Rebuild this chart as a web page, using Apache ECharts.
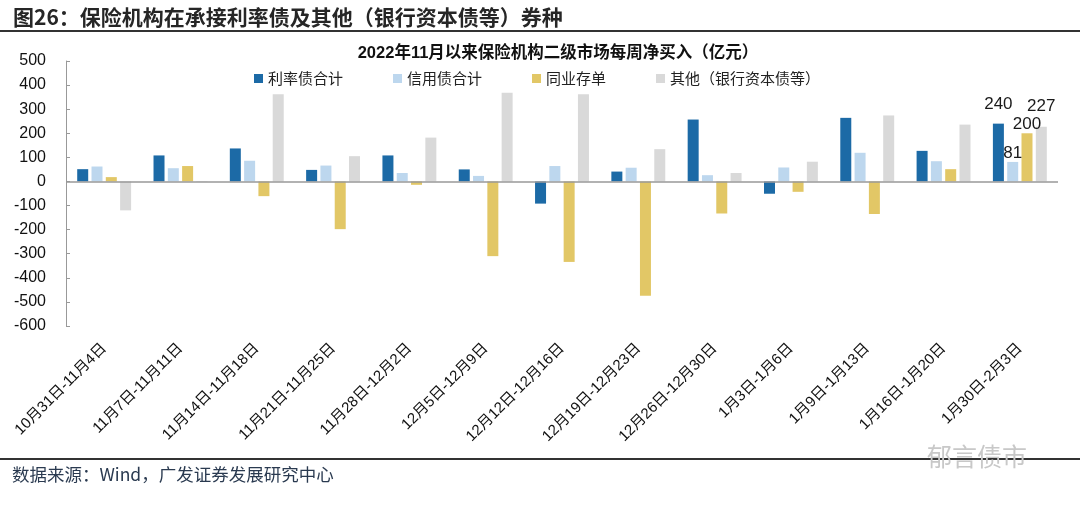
<!DOCTYPE html>
<html><head><meta charset="utf-8">
<script src="https://cdn.jsdelivr.net/npm/echarts@6/dist/echarts.min.js"></script>
<style>html,body{margin:0;padding:0;background:#fff}#c{width:1080px;height:508px}</style>
</head><body><div id="c"></div>
<script>
const categories = ['10月31日-11月4日','11月7日-11月11日','11月14日-11月18日','11月21日-11月25日','11月28日-12月2日','12月5日-12月9日','12月12日-12月16日','12月19日-12月23日','12月26日-12月30日','1月3日-1月6日','1月9日-1月13日','1月16日-1月20日','1月30日-2月3日'];
const rateBonds  = [51, 108, 137, 48, 108, 50, -92, 41, 257, -51, 264, 127, 240];
const creditBonds = [62, 55, 86, 66, 35, 23, 64, 57, 26, 58, 119, 84, 81];
const ncd = [18, 64, -61, -198, -14, -310, -334, -474, -133, -43, -135, 51, 200];
const others = [-120, -2, 362, 105, 182, 368, 362, 134, 35, 82, 274, 236, 227];
const seriesNames = ['利率债合计','信用债合计','同业存单','其他（银行资本债等）'];
const yTicks = {min: -600, max: 500, interval: 100};

const FONT = '"Liberation Sans", Arial, "Noto Sans CJK SC", sans-serif';
const CJK = '"Noto Sans CJK SC", sans-serif';
const colors = ['#1c6aa6', '#bdd7ee', '#e2c766', '#d9d9d9'];

function withLastLabel(arr, offsetY) {
  return arr.map((v, i) => i === arr.length - 1
    ? {value: v, label: {show: true, position: 'top', distance: offsetY, fontSize: 17, fontFamily: FONT, color: '#1a1a1a'}}
    : v);
}

const chart = echarts.init(document.getElementById('c'));
chart.setOption({
  animation: false,
  backgroundColor: '#fff',
  color: colors,
  title: [{
    text: '图26：保险机构在承接利率债及其他（银行资本债等）券种',
    left: 8, top: 2,
    textStyle: {fontSize: 21, fontWeight: 'bold', color: '#262626', fontFamily: CJK}
  }, {
    text: '2022年11月以来保险机构二级市场每周净买入（亿元）',
    left: 553, top: 40, textAlign: 'center',
    textStyle: {fontSize: 16.5, fontWeight: 'bold', color: '#111', fontFamily: FONT}
  }],
  graphic: [
    {type: 'line', shape: {x1: 0, y1: 31, x2: 1080, y2: 31}, style: {stroke: '#333', lineWidth: 2}},
    {type: 'line', shape: {x1: 0, y1: 459, x2: 1080, y2: 459}, style: {stroke: '#333', lineWidth: 2}},
    {type: 'text', left: 12, top: 466, style: {text: '数据来源：Wind，广发证券发展研究中心', fontSize: 17.5, fill: '#2a3a50', fontFamily: CJK}},
    {type: 'text', left: 927, top: 444, style: {text: '郁言债市', fontSize: 25, fill: '#c8c8c8', fontFamily: CJK}}
  ],
  legend: {
    data: seriesNames,
    left: 249, top: 66,
    itemWidth: 9, itemHeight: 9, itemGap: 50,
    icon: 'rect',
    textStyle: {fontSize: 15, color: '#222', fontFamily: CJK}
  },
  grid: {left: 66, right: 22, top: 61, bottom: 182},
  xAxis: {
    type: 'category',
    data: categories,
    axisLine: {show: false, onZero: false},
    axisTick: {show: false},
    axisLabel: {rotate: 45, fontSize: 15, color: '#111', fontFamily: FONT, margin: 20, interval: 0}
  },
  yAxis: {
    type: 'value',
    min: yTicks.min, max: yTicks.max, interval: yTicks.interval,
    axisLine: {show: true, lineStyle: {color: '#999'}},
    axisTick: {show: true, inside: true, length: 4, lineStyle: {color: '#999'}},
    splitLine: {show: false},
    axisLabel: {fontSize: 16, color: '#111', fontFamily: FONT, margin: 20}
  },
  series: [
    {name: seriesNames[0], type: 'bar', barWidth: 11, barGap: '30%', data: withLastLabel(rateBonds, 11),
      markLine: {silent: true, symbol: 'none', label: {show: false}, lineStyle: {color: '#999', type: 'solid', width: 1.5}, data: [{yAxis: 0}]}},
    {name: seriesNames[1], type: 'bar', barWidth: 11, barGap: '30%', data: withLastLabel(creditBonds, 0)},
    {name: seriesNames[2], type: 'bar', barWidth: 11, barGap: '30%', data: withLastLabel(ncd, 0)},
    {name: seriesNames[3], type: 'bar', barWidth: 11, barGap: '30%', data: withLastLabel(others, 12)}
  ]
});
</script></body></html>
